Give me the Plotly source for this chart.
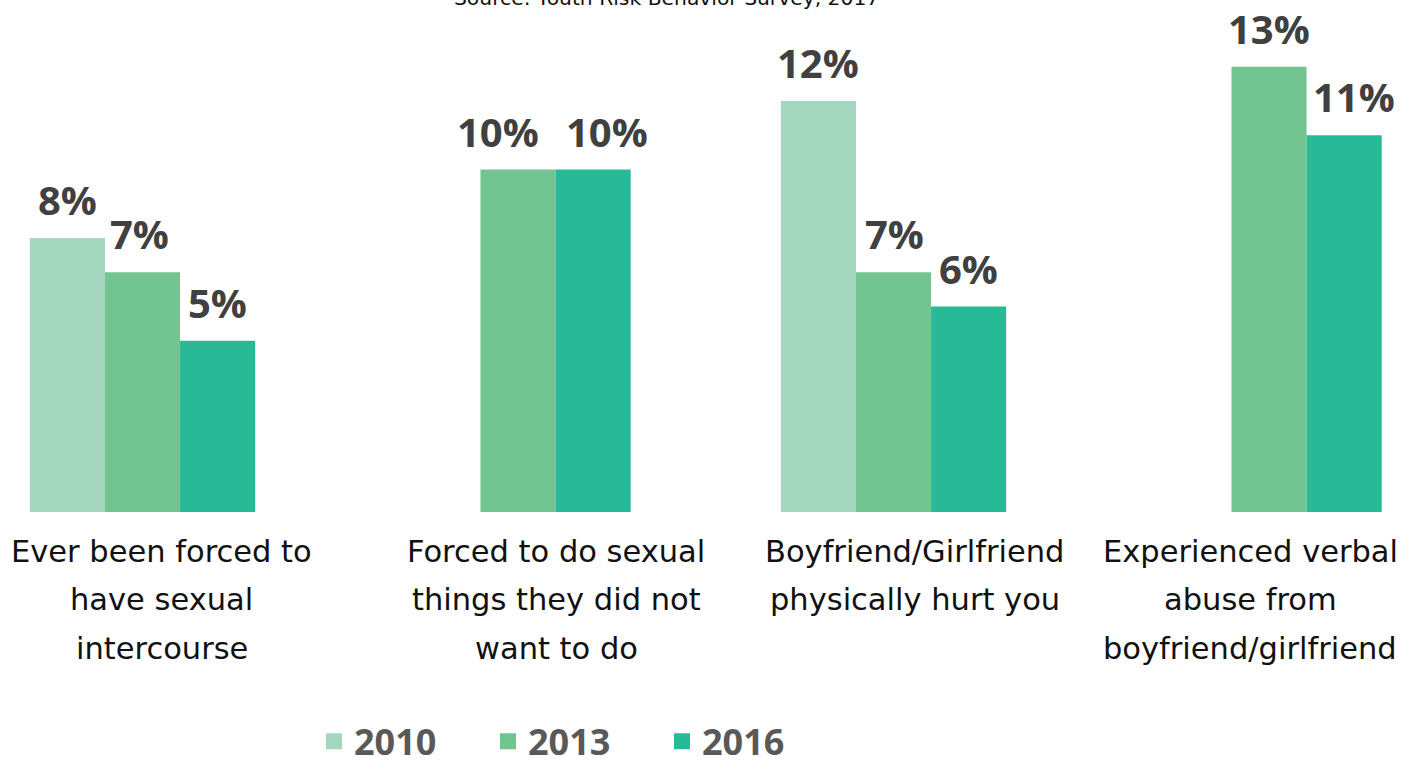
import plotly.graph_objects as go

categories = [
    "Ever been forced to<br>have sexual<br>intercourse",
    "Forced to do sexual<br>things they did not<br>want to do",
    "Boyfriend/Girlfriend<br>physically hurt you",
    "Experienced verbal<br>abuse from<br>boyfriend/girlfriend",
]
years = ["2010", "2013", "2016"]
values_2010 = [8, None, 12, None]
values_2013 = [7, 10, 7, 13]
values_2016 = [5, 10, 6, 11]
series = [values_2010, values_2013, values_2016]
colors = ["#a5d6bf", "#72c491", "#28b996"]
source_text = "Source: Youth Risk Behavior Survey, 2017"

label_font = "DejaVu Sans"
num_font = "Open Sans"

# small horizontal nudges of the value labels (px), as in the reference
value_label_nudge = [[0, 0, 0, 0], [-3, -20, 1, 0], [0, 14, 0, 10]]
label_shift = [19, 38, 21, -19]

fig = go.Figure()
xidx = list(range(len(categories)))
for name, vals, col in zip(years, series, colors):
    fig.add_trace(go.Bar(x=xidx, y=vals, name=name, marker=dict(color=col, line=dict(width=0)),
                         showlegend=False, hoverinfo="skip"))
    fig.add_trace(go.Scatter(x=[None], y=[None], mode="markers", name=name,
                             marker=dict(symbol="square", size=16, color=col)))

annotations = []
nser = len(series)
slot = 0.6 / nser
for i, vals in enumerate(series):
    for c, v in enumerate(vals):
        if v is None:
            continue
        annotations.append(dict(
            x=c + (i - (nser - 1) / 2) * slot, y=v, xref="x", yref="y",
            text=f"{v}%", showarrow=False, yanchor="bottom", yshift=9,
            xshift=value_label_nudge[i][c],
            font=dict(family=num_font, size=40, color="#404040", weight="bold"),
        ))

for c, cat in enumerate(categories):
    for j, line in enumerate(cat.split("<br>")):
        annotations.append(dict(
            x=c, y=0, xref="x", yref="paper", text=line, showarrow=False,
            xanchor="center", yanchor="middle", xshift=label_shift[c], yshift=-39 - 48.5 * j,
            font=dict(family=label_font, size=30.5, color="#111111"),
        ))

annotations.append(dict(
    x=666 / 1414, y=1, xref="paper", yref="paper", text=source_text, showarrow=False,
    xanchor="center", yanchor="bottom", yshift=-12,
    font=dict(family=label_font, size=20.3, color="#111111"),
))

fig.update_layout(
    width=1414, height=769,
    margin=dict(l=0, r=0, t=0, b=257, autoexpand=False),
    paper_bgcolor="white", plot_bgcolor="white",
    barmode="group", bargap=0.4, bargroupgap=0,
    xaxis=dict(range=[-0.3795, 3.386], showticklabels=False, showgrid=False,
               zeroline=False, showline=False, ticks=""),
    yaxis=dict(range=[0, 512 / 34.25], visible=False),
    showlegend=True,
    legend=dict(orientation="h", x=575 / 1414, xanchor="center", y=-0.448, yanchor="middle",
                font=dict(family=num_font, size=36, color="#595959", weight="bold"),
                itemsizing="trace", entrywidth=129, bgcolor="rgba(0,0,0,0)"),
    annotations=annotations,
)

fig.write_html("out.html", config={"displayModeBar": False},
               post_script="document.body.style.margin='0';")
